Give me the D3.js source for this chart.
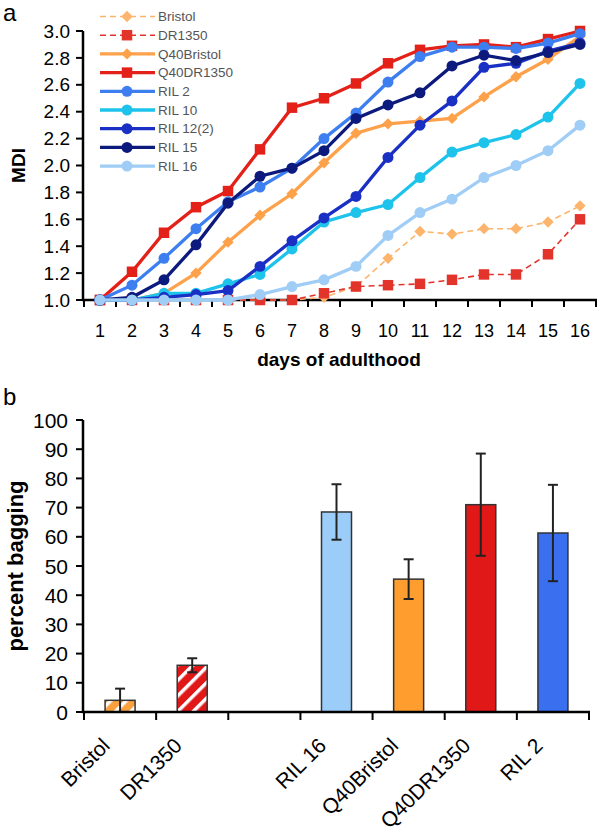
<!DOCTYPE html>
<html>
<head>
<meta charset="utf-8">
<script src="https://cdn.jsdelivr.net/npm/d3@7"></script>
<style>
  body { margin: 0; background: #fff; }
  svg { display: block; font-family: "Liberation Sans", Arial, sans-serif; }
</style>
</head>
<body>
<svg id="chart" width="600" height="832"></svg>
<script>
// panel a: MDI by day of adulthood
const days = d3.range(1, 17);
const strains = ["Bristol", "DR1350", "Q40Bristol", "Q40DR1350", "RIL 2", "RIL 10", "RIL 12(2)", "RIL 15", "RIL 16"];
const bristol    = [1.0, 1.0, 1.0, 1.0, 1.0, 1.0, 1.0, 1.02, 1.1, 1.31, 1.51, 1.49, 1.53, 1.53, 1.58, 1.70];
const dr1350     = [1.0, 1.0, 1.0, 1.0, 1.0, 1.0, 1.0, 1.05, 1.1, 1.11, 1.12, 1.15, 1.19, 1.19, 1.34, 1.60];
const q40Bristol = [1.0, 1.0, 1.05, 1.2, 1.43, 1.63, 1.79, 2.02, 2.24, 2.31, 2.33, 2.35, 2.51, 2.66, 2.79, 2.96];
const q40DR1350  = [1.0, 1.21, 1.5, 1.69, 1.81, 2.12, 2.43, 2.5, 2.61, 2.76, 2.86, 2.89, 2.9, 2.88, 2.94, 3.0];
const ril2       = [1.0, 1.11, 1.31, 1.53, 1.73, 1.84, 1.98, 2.2, 2.39, 2.62, 2.81, 2.88, 2.88, 2.87, 2.91, 2.98];
const ril10      = [1.0, 1.0, 1.05, 1.05, 1.12, 1.19, 1.38, 1.58, 1.65, 1.71, 1.91, 2.1, 2.17, 2.23, 2.36, 2.61];
const ril12      = [1.0, 1.0, 1.02, 1.04, 1.07, 1.25, 1.44, 1.61, 1.77, 2.06, 2.3, 2.48, 2.73, 2.76, 2.85, 2.91];
const ril15      = [1.0, 1.02, 1.15, 1.41, 1.72, 1.92, 1.98, 2.11, 2.35, 2.45, 2.54, 2.74, 2.82, 2.78, 2.84, 2.9];
const ril16      = [1.0, 1.0, 1.0, 1.0, 1.0, 1.04, 1.1, 1.15, 1.25, 1.48, 1.65, 1.75, 1.91, 2.0, 2.11, 2.30];
const mdiTicks = [1.0, 1.2, 1.4, 1.6, 1.8, 2.0, 2.2, 2.4, 2.6, 2.8, 3.0];

// panel b: percent bagging
const barCats   = ["Bristol", "DR1350", "", "RIL 16", "Q40Bristol", "Q40DR1350", "RIL 2"];
const barValues = [4, 16, null, 68.5, 45.5, 71, 61.3];
const barErrors = [4, 2.4, null, 9.5, 6.8, 17.5, 16.5];
const pctTicks = [0, 10, 20, 30, 40, 50, 60, 70, 80, 90, 100];

const lineSeries = [
  { name: "Bristol",    values: bristol,    color: "#fdb46c", marker: "diamond", dashed: true },
  { name: "DR1350",     values: dr1350,     color: "#e3342c", marker: "square",  dashed: true },
  { name: "Q40Bristol", values: q40Bristol, color: "#fda14a", marker: "diamond", dashed: false },
  { name: "Q40DR1350",  values: q40DR1350,  color: "#e32119", marker: "square",  dashed: false },
  { name: "RIL 2",      values: ril2,       color: "#3d7ff0", marker: "circle",  dashed: false },
  { name: "RIL 10",     values: ril10,      color: "#1ec3ec", marker: "circle",  dashed: false },
  { name: "RIL 12(2)",  values: ril12,      color: "#1a2fc4", marker: "circle",  dashed: false },
  { name: "RIL 15",     values: ril15,      color: "#0d1a7d", marker: "circle",  dashed: false },
  { name: "RIL 16",     values: ril16,      color: "#9fcdf6", marker: "circle",  dashed: false }
];
const barColors = ["#f9a040", "#e01818", null, "#9ccdf8", "#ff9d2e", "#e01818", "#3a6ff0"];
const barHatched = [true, true, false, false, false, false, false];

const svg = d3.select("#chart");

// hatch patterns for the wild-type bars
const defs = svg.append("defs");
barCats.forEach((c, i) => {
  if (!barHatched[i]) return;
  const p = defs.append("pattern")
    .attr("id", "hatch" + i)
    .attr("patternUnits", "userSpaceOnUse")
    .attr("width", 11).attr("height", 10)
    .attr("patternTransform", "rotate(45)");
  p.append("rect").attr("width", 11).attr("height", 10).attr("fill", barColors[i]);
  p.append("rect").attr("x", 0).attr("width", 3.5).attr("height", 10).attr("fill", "#fff");
});

// marker shapes; diamond = square turned 45deg
function markerPath(type) {
  if (type === "diamond") return d3.symbol(d3.symbolSquare, 64)();
  if (type === "square") return d3.symbol(d3.symbolSquare, 110)();
  return d3.symbol(d3.symbolCircle, 95)();
}
const markerRot = type => type === "diamond" ? " rotate(45)" : "";

// ---------- panel a ----------
const xA = d3.scaleBand().domain(days).range([84, 596]);
const yA = d3.scaleLinear().domain([1, 3]).range([300, 31]);
const cx = d => xA(d) + xA.bandwidth() / 2;

svg.append("text").attr("x", 3).attr("y", 21).attr("font-size", 24).text("a");

const gA = svg.append("g");

// y axis
gA.append("line").attr("x1", 83).attr("x2", 83).attr("y1", yA(3)).attr("y2", yA(1))
  .attr("stroke", "#000").attr("stroke-width", 2.5);
gA.selectAll(".ytick").data(mdiTicks).join("line")
  .attr("x1", 76).attr("x2", 83).attr("y1", d => yA(d)).attr("y2", d => yA(d))
  .attr("stroke", "#000").attr("stroke-width", 2);
gA.selectAll(".ylab").data(mdiTicks).join("text")
  .attr("x", 70).attr("y", d => yA(d)).attr("dy", "0.35em")
  .attr("text-anchor", "end").attr("font-size", 19)
  .text(d3.format(".1f"));

// x axis
gA.append("line").attr("x1", 82).attr("x2", 597).attr("y1", yA(1)).attr("y2", yA(1))
  .attr("stroke", "#000").attr("stroke-width", 2.5);
const xEdges = days.map(d => xA(d)).concat([xA(16) + xA.bandwidth()]);
gA.selectAll(".xtick").data(xEdges).join("line")
  .attr("x1", d => d).attr("x2", d => d).attr("y1", yA(1)).attr("y2", yA(1) + 7)
  .attr("stroke", "#000").attr("stroke-width", 2);
gA.selectAll(".xlab").data(days).join("text")
  .attr("x", cx).attr("y", 337).attr("text-anchor", "middle").attr("font-size", 18)
  .text(d => d);

gA.append("text").attr("x", 339).attr("y", 366).attr("text-anchor", "middle")
  .attr("font-size", 19).attr("font-weight", "bold").text("days of adulthood");
gA.append("text").attr("transform", `translate(25,${(yA(1) + yA(3)) / 2}) rotate(-90)`)
  .attr("text-anchor", "middle").attr("font-size", 19).attr("font-weight", "bold").text("MDI");

const line = d3.line().x((v, i) => cx(days[i])).y(v => yA(v));

lineSeries.forEach(s => {
  const g = gA.append("g");
  g.append("path").attr("d", line(s.values))
    .attr("fill", "none").attr("stroke", s.color)
    .attr("stroke-width", s.dashed ? 1.6 : 3.3)
    .attr("stroke-dasharray", s.dashed ? "6,4" : null);
  g.selectAll("path.m").data(s.values).join("path").attr("class", "m")
    .attr("d", markerPath(s.marker))
    .attr("transform", (v, i) => `translate(${cx(days[i])},${yA(v)})` + markerRot(s.marker))
    .attr("fill", s.color);
});

// legend
const legend = gA.append("g");
lineSeries.forEach((s, i) => {
  const y = 16.5 + i * 18.7;
  legend.append("line").attr("x1", 100).attr("x2", 155).attr("y1", y).attr("y2", y)
    .attr("stroke", s.color).attr("stroke-width", s.dashed ? 1.6 : 3.3)
    .attr("stroke-dasharray", s.dashed ? "6,4" : null);
  legend.append("path").attr("d", markerPath(s.marker))
    .attr("transform", `translate(127,${y})` + markerRot(s.marker)).attr("fill", s.color);
  legend.append("text").attr("x", 158).attr("y", y).attr("dy", "0.35em")
    .attr("font-size", 13.5).attr("fill", "#555").text(s.name);
});

// ---------- panel b ----------
const xB = d3.scaleBand().domain(barCats).range([84, 589]);
const yB = d3.scaleLinear().domain([0, 100]).range([712, 420]);
const bw = 30;
const bcx = c => xB(c) + xB.bandwidth() / 2;

svg.append("text").attr("x", 3).attr("y", 405).attr("font-size", 24).text("b");

const gB = svg.append("g");

gB.append("line").attr("x1", 83).attr("x2", 83).attr("y1", yB(100)).attr("y2", yB(0))
  .attr("stroke", "#000").attr("stroke-width", 2.5);
gB.selectAll(".ytick").data(pctTicks).join("line")
  .attr("x1", 76).attr("x2", 83).attr("y1", d => yB(d)).attr("y2", d => yB(d))
  .attr("stroke", "#000").attr("stroke-width", 2);
gB.selectAll(".ylab").data(pctTicks).join("text")
  .attr("x", 68).attr("y", d => yB(d)).attr("dy", "0.36em")
  .attr("text-anchor", "end").attr("font-size", 21).text(d => d);

gB.append("text").attr("transform", `translate(23,${(yB(0) + yB(100)) / 2}) rotate(-90)`)
  .attr("text-anchor", "middle").attr("font-size", 22).attr("font-weight", "bold")
  .text("percent bagging");

const barData = barCats.map((c, i) => ({ c, v: barValues[i], e: barErrors[i], i }))
  .filter(d => d.v != null);

gB.selectAll("rect.bar").data(barData).join("rect").attr("class", "bar")
  .attr("x", d => bcx(d.c) - bw / 2).attr("width", bw)
  .attr("y", d => yB(d.v)).attr("height", d => yB(0) - yB(d.v))
  .attr("fill", d => barHatched[d.i] ? `url(#hatch${d.i})` : barColors[d.i])
  .attr("stroke", "#333").attr("stroke-width", 1.5);

// error bars
const eb = gB.selectAll("g.err").data(barData).join("g").attr("class", "err")
  .attr("stroke", "#222").attr("stroke-width", 2);
eb.append("line").attr("x1", d => bcx(d.c)).attr("x2", d => bcx(d.c))
  .attr("y1", d => yB(d.v + d.e)).attr("y2", d => yB(Math.max(0, d.v - d.e)));
eb.append("line").attr("x1", d => bcx(d.c) - 5).attr("x2", d => bcx(d.c) + 5)
  .attr("y1", d => yB(d.v + d.e)).attr("y2", d => yB(d.v + d.e));
eb.append("line").attr("x1", d => bcx(d.c) - 5).attr("x2", d => bcx(d.c) + 5)
  .attr("y1", d => yB(Math.max(0, d.v - d.e))).attr("y2", d => yB(Math.max(0, d.v - d.e)));

// x axis
gB.append("line").attr("x1", 82).attr("x2", 590).attr("y1", yB(0)).attr("y2", yB(0))
  .attr("stroke", "#000").attr("stroke-width", 2.5);
const bEdges = barCats.map(c => xB(c)).concat([xB(barCats[barCats.length - 1]) + xB.bandwidth()]);
gB.selectAll(".xtick").data(bEdges).join("line")
  .attr("x1", d => d).attr("x2", d => d).attr("y1", yB(0)).attr("y2", yB(0) + 8)
  .attr("stroke", "#000").attr("stroke-width", 2);
gB.selectAll(".xlab").data(barCats.filter(c => c)).join("text")
  .attr("transform", c => `translate(${bcx(c) - 9},747) rotate(-45)`)
  .attr("text-anchor", "end").attr("font-size", 21).text(c => c);
</script>
</body>
</html>
